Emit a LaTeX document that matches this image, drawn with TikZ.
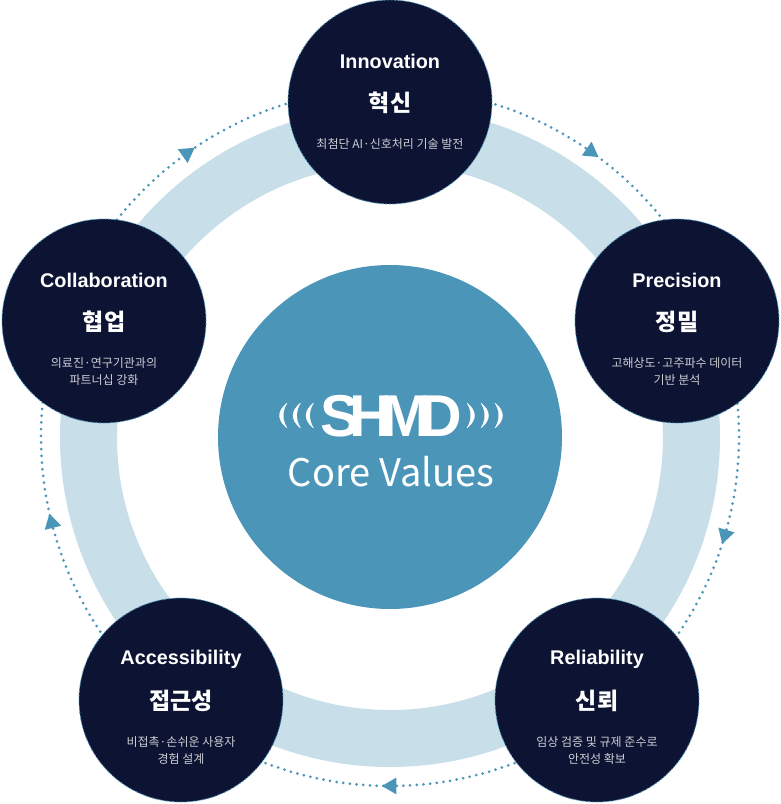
\documentclass[tikz,border=0pt]{standalone}
\usepackage{fontspec}
\setmainfont{Noto Sans CJK KR}
\newfontfamily\titlefont{Liberation Sans}
\newfontfamily\logofont{Liberation Sans}[LetterSpace=-18]
\usetikzlibrary{calc,decorations.markings}
\definecolor{navy}{HTML}{0D1433}
\definecolor{teal}{HTML}{4B96B8}
\definecolor{ringblue}{HTML}{C8DFE9}
\definecolor{subgrey}{HTML}{CDCED4}
\pgfdeclarelayer{under}
\pgfsetlayers{under,main}
\tikzset{
  valuedisc/.style={circle,fill=navy,draw=teal,line width=.8pt,dash pattern=on 2pt off 1.5pt,minimum size=204pt,inner sep=0pt},
  entitle/.style={text=white,font=\titlefont\bfseries\fontsize{19.8}{22}\selectfont,inner sep=0pt},
  kotitle/.style={text=white,font=\bfseries\fontsize{23}{26}\selectfont,inner sep=0pt},
  subtext/.style={text=subgrey,font=\fontsize{12}{17}\selectfont,align=center,inner sep=0pt,anchor=north},
  dotring/.style={teal,line width=3pt,line cap=round,dash pattern=on 0pt off 6.7pt,
    postaction={decorate},
    decoration={markings,mark=at position #1 with {\fill[teal,dash pattern=on 1pt off 0pt,line width=0pt] (8pt,0pt) -- (-6.5pt,8.5pt) -- (-6.5pt,-8.5pt) -- cycle;}}},
  wavefill/.style={fill=white,draw=white,line width=.3pt,line join=round}
}
\newcommand{\valuenode}[6]{%
  \node[valuedisc] (#1) at (#2,#3) {};
  \node[entitle] (#1en) at ($(#1)+(0,-41)$) {#4};
  \node[kotitle] (#1ko) at ($(#1)+(0,1)$) {#5};
  \node[subtext] (#1sub) at ($(#1)+(0,36.5)$) {#6};
}
\newcommand{\wavemark}[3]{%
  \path[wavefill] (#1,403) .. controls (#1+#3*10,411) and (#1+#3*10,420) .. (#1,428)
    .. controls (#1+#3*5,420) and (#1+#3*5,411) .. cycle;
}
\begin{document}
\begin{tikzpicture}[x=1pt,y=-1pt]
\useasboundingbox (0,0) rectangle (780,804);
\coordinate (hub) at (390,437);
\coordinate (dinn) at ($(hub)+(90:349pt)$);
\coordinate (dpre) at ($(hub)+(22:349pt)$);
\coordinate (drel) at ($(hub)+(-51.5:349pt)$);
\coordinate (dacc) at ($(hub)+(-128.5:349pt)$);
\coordinate (dcol) at ($(hub)+(158:349pt)$);
\begin{pgfonlayer}{under}
  \draw[ringblue,line width=57pt] (hub) circle[radius=301.5pt];
  \draw[dotring=.52] (dinn) arc[start angle=90,end angle=22,radius=349pt];
  \draw[dotring=.524] (dpre) arc[start angle=22,end angle=-51.5,radius=349pt];
  \draw[dotring=.5] (drel) arc[start angle=-51.5,end angle=-128.5,radius=349pt];
  \draw[dotring=.51] (dacc) arc[start angle=-128.5,end angle=-202,radius=349pt];
  \draw[dotring=.48] (dcol) arc[start angle=158,end angle=90,radius=349pt];
\end{pgfonlayer}
\node[circle,fill=teal,minimum size=344pt,inner sep=0pt] (core) at (hub) {};
\node[text=white,font=\logofont\bfseries\fontsize{59}{60}\selectfont,inner sep=0pt] (logo) at (391.5,416) {SHMD};
\node[text=white,font=\fontsize{38}{42}\selectfont,inner sep=0pt] (corevalues) at (391,472) {Core Values};
\wavemark{287}{0}{-1}
\wavemark{300.5}{0}{-1}
\wavemark{313.5}{0}{-1}
\wavemark{467}{0}{1}
\wavemark{481}{0}{1}
\wavemark{495}{0}{1}
\valuenode{inn}{390}{102}{Innovation}{혁신}{최첨단 AI·신호처리 기술 발전}
\valuenode{pre}{677}{321}{Precision}{정밀}{고해상도·고주파수 데이터\\기반 분석}
\valuenode{rel}{597}{700}{Reliability}{신뢰}{임상 검증 및 규제 준수로\\안전성 확보}
\valuenode{acc}{181}{700}{Accessibility}{접근성}{비접촉·손쉬운 사용자\\경험 설계}
\valuenode{col}{104}{321}{Collaboration}{협업}{의료진·연구기관과의\\파트너십 강화}
\end{tikzpicture}
\end{document}
